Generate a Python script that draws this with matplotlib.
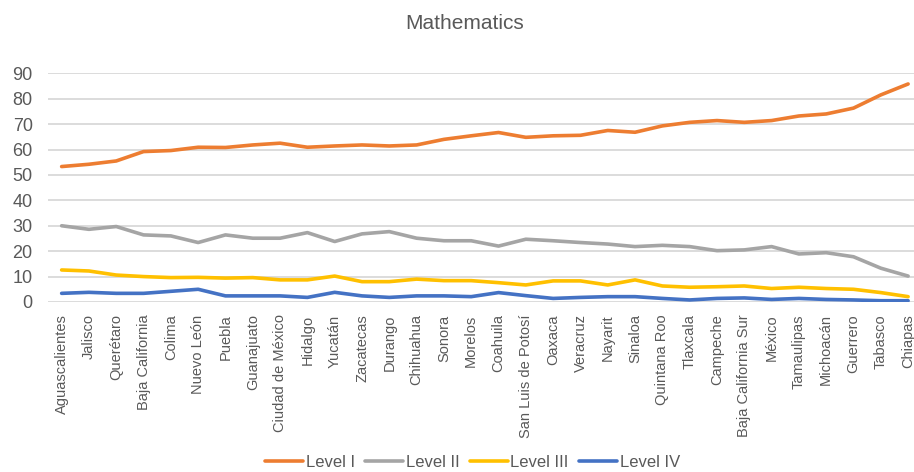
import matplotlib
matplotlib.use("Agg")
import matplotlib.pyplot as plt
import numpy as np

# states, ordered by share of students at Level I
states = ["Aguascalientes", "Jalisco", "Querétaro", "Baja California", "Colima",
          "Nuevo León", "Puebla", "Guanajuato", "Ciudad de México", "Hidalgo",
          "Yucatán", "Zacatecas", "Durango", "Chihuahua", "Sonora", "Morelos",
          "Coahuila", "San Luis de Potosí", "Oaxaca", "Veracruz", "Nayarit",
          "Sinaloa", "Quintana Roo", "Tlaxcala", "Campeche", "Baja California Sur",
          "México", "Tamaulipas", "Michoacán", "Guerrero", "Tabasco", "Chiapas"]

level_1 = [53.3, 54.2, 55.5, 59.2, 59.6, 60.9, 60.8, 61.8, 62.5, 60.9, 61.4,
           61.8, 61.4, 61.8, 64.0, 65.4, 66.7, 64.8, 65.4, 65.6, 67.5, 66.8,
           69.3, 70.7, 71.4, 70.7, 71.4, 73.2, 74.0, 76.3, 81.5, 85.8]
level_2 = [30.0, 28.6, 29.7, 26.4, 26.0, 23.4, 26.4, 25.1, 25.1, 27.3, 23.8,
           26.8, 27.7, 25.1, 24.1, 24.1, 22.0, 24.7, 24.1, 23.4, 22.8, 21.8,
           22.3, 21.8, 20.2, 20.5, 21.8, 18.9, 19.4, 17.8, 13.3, 10.2]
level_3 = [12.6, 12.2, 10.6, 10.0, 9.6, 9.7, 9.4, 9.6, 8.7, 8.7, 10.2,
           8.0, 8.0, 9.0, 8.4, 8.4, 7.6, 6.7, 8.3, 8.3, 6.7, 8.7,
           6.3, 5.8, 6.0, 6.3, 5.3, 5.8, 5.3, 5.0, 3.7, 2.1]
level_4 = [3.4, 3.8, 3.4, 3.4, 4.2, 5.0, 2.4, 2.4, 2.4, 1.8, 3.8,
           2.4, 1.8, 2.4, 2.4, 2.1, 3.7, 2.5, 1.4, 1.8, 2.1, 2.1,
           1.4, 0.8, 1.4, 1.6, 1.0, 1.4, 1.0, 0.8, 0.5, 0.5]

series = [("Level I", level_1, "#ED7D31"),
          ("Level II", level_2, "#A5A5A5"),
          ("Level III", level_3, "#FFC000"),
          ("Level IV", level_4, "#4472C4")]

plt.rcParams['font.family'] = ['Liberation Sans', 'DejaVu Sans']
txt = "#595959"

fig = plt.figure(figsize=(9.14, 4.72), dpi=100)
ax = fig.add_axes([0.0525, 0.3602, 0.956, 0.4845])

x = np.arange(len(states))
for name, vals, col in series:
    ax.plot(x, vals, color=col, lw=2.6, label=name, solid_capstyle="round")

ax.set_xlim(-0.5, len(states) - 0.5)
ax.set_ylim(0, 90)
ax.set_yticks(range(0, 91, 10))
ax.set_xticks(x)
ax.set_xticklabels(states, rotation=90, fontsize=10.5, color=txt)
ax.tick_params(axis="x", length=0, pad=9)
ax.tick_params(axis="y", length=0, pad=11, labelsize=13, labelcolor=txt)
ax.grid(axis="y", color="#d9d9d9", lw=1.3)
ax.set_axisbelow(True)
for s in ax.spines.values():
    s.set_visible(False)

fig.text(0.508, 0.951, "Mathematics", ha="center", va="center",
         fontsize=15, color=txt)

fig.legend(loc="center", bbox_to_anchor=(0.517, 0.021), ncol=4, frameon=False,
           fontsize=12, handlelength=2.3, handletextpad=0.15, columnspacing=0.6,
           labelcolor=txt)

fig.savefig("out.png", dpi=100)
